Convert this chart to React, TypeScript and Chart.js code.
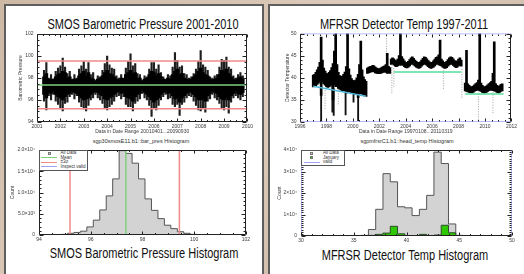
import React, { useEffect, useRef } from 'react';
import { Chart, registerables } from 'chart.js';

Chart.register(...registerables);

const FONT = "'Liberation Sans', Arial, Helvetica, sans-serif";
const INK = '#222';
const LABEL = '#3a3a3a';
const RED = '#f08a8a';
const GREEN = '#7fd07f';
const BLUE = '#a3a3f5';
const CYAN = '#4fb6d6';
const MINT = '#55dc9c';
const HIST_GRAY = '#d3d3d3';
const HIST_GREEN = '#2ec800';

// ---------------- SMOS barometric pressure (0.1-year bins from 2001.3) ----------------
const smosStart = 2001.3;
const smosStep = 0.1;
const smosHigh = [
  98.7, 99.4, 98.0, 98.3, 97.9, 98.6, 98.9,
  99.1, 99.8, 99.0, 98.4, 98.6, 97.9, 98.3, 98.0, 98.8, 99.1,
  99.5, 98.8, 99.4, 98.3, 98.5, 97.8, 98.2, 98.1, 98.7, 99.3,
  100.0, 99.2, 98.9, 98.8, 98.2, 98.0, 98.3, 98.0, 98.9, 99.5,
  100.2, 99.1, 99.3, 98.4, 98.3, 97.8, 98.2, 98.1, 98.8, 99.4,
  99.4, 98.8, 99.2, 98.5, 98.1, 97.9, 98.3, 98.2, 99.0, 100.3,
  99.6, 99.0, 99.1, 98.4, 98.3, 98.0, 98.1, 98.4, 98.8, 99.5,
  100.5, 99.2, 99.0, 98.7, 98.1, 98.0, 98.2, 98.3, 99.0, 99.7,
  99.6, 99.9, 99.0, 98.8, 98.2, 98.0, 98.3, 98.5, 98.2,
];
const smosLow = [
  95.9, 95.1, 96.4, 96.0, 96.5, 95.9, 95.6,
  95.3, 95.0, 95.7, 95.8, 96.3, 96.5, 96.1, 96.4, 95.8, 95.4,
  95.2, 95.0, 95.5, 96.0, 96.2, 96.5, 96.2, 96.0, 95.7, 95.3,
  95.1, 95.4, 95.6, 95.9, 96.3, 96.4, 96.1, 96.3, 95.6, 95.4,
  95.4, 95.0, 95.7, 95.9, 96.1, 96.6, 96.2, 96.0, 95.5, 94.5,
  95.3, 95.1, 95.5, 96.0, 96.3, 96.5, 96.1, 96.2, 95.6, 95.4,
  95.6, 94.6, 95.6, 95.8, 96.2, 96.4, 96.3, 95.9, 95.5, 95.1,
  95.0, 95.3, 94.9, 95.9, 96.1, 96.5, 96.2, 96.0, 95.7, 95.3,
  95.1, 95.4, 94.8, 95.8, 96.2, 96.4, 96.2, 96.0, 96.3,
];
const smosCoreHigh = [
  98.1, 98.4, 97.9, 97.8, 97.9, 98.1, 98.3,
  98.4, 98.6, 98.5, 98.0, 98.1, 97.8, 97.9, 97.9, 98.2, 98.4,
  98.6, 98.2, 98.5, 98.0, 97.9, 97.7, 97.9, 98.0, 98.2, 98.5,
  98.7, 98.4, 98.3, 98.1, 97.9, 97.8, 98.0, 97.9, 98.3, 98.5,
  98.7, 98.4, 98.5, 98.0, 98.0, 97.7, 97.9, 98.0, 98.3, 98.6,
  98.5, 98.2, 98.4, 98.1, 97.9, 97.8, 98.0, 97.9, 98.3, 98.6,
  98.8, 98.3, 98.4, 98.0, 97.9, 97.8, 97.9, 98.1, 98.3, 98.6,
  98.9, 98.5, 98.3, 98.2, 97.9, 97.8, 97.9, 98.0, 98.3, 98.7,
  98.6, 98.8, 98.4, 98.1, 97.9, 97.8, 98.0, 98.1, 97.9,
];
const smosCoreLow = [
  96.5, 96.2, 96.7, 96.6, 96.8, 96.5, 96.3,
  96.2, 96.0, 96.3, 96.5, 96.6, 96.8, 96.7, 96.6, 96.4, 96.2,
  96.0, 96.1, 96.2, 96.5, 96.7, 96.8, 96.7, 96.5, 96.4, 96.1,
  96.0, 96.2, 96.3, 96.5, 96.7, 96.8, 96.6, 96.7, 96.3, 96.2,
  96.1, 95.9, 96.3, 96.5, 96.6, 96.9, 96.7, 96.5, 96.3, 96.0,
  95.8, 96.0, 96.2, 96.5, 96.7, 96.8, 96.6, 96.7, 96.4, 96.1,
  96.2, 95.8, 96.2, 96.4, 96.6, 96.8, 96.7, 96.5, 96.3, 96.0,
  96.0, 96.1, 95.9, 96.4, 96.6, 96.8, 96.7, 96.6, 96.3, 96.1,
  96.0, 96.2, 96.0, 96.4, 96.6, 96.8, 96.6, 96.5, 96.7,
];
const smosRefValues = [99.55, 97.36, 95.2]; // upper limit, mean, lower limit
const smosYears = [2001, 2002, 2003, 2004, 2005, 2006, 2007, 2008, 2009, 2010];
const smosYTicks = [94, 96, 98, 100, 102];

// ---------------- SMOS histogram ----------------
const smosBinEdges = [
  94.6, 94.85, 95.1, 95.35, 95.6, 95.85, 96.1, 96.35, 96.6, 96.85, 97.1, 97.35,
  97.6, 97.85, 98.1, 98.35, 98.6, 98.85, 99.1, 99.35, 99.6, 99.85, 100.1, 100.35,
];
const smosCounts = [
  80, 150, 400, 600, 900, 1900, 3500, 5900, 9200, 13200, 19850, 19200,
  16900, 13200, 8500, 5800, 3850, 2300, 1500, 770, 400, 150, 60,
];
const smosHistLines = [95.2, 97.36, 99.43]; // -limit, mean, +limit
const smosHistXTicks = [94, 96, 98, 100, 102];
const smosHistYTicks = [0, 5000, 10000, 15000, 20000];
const smosHistYLabels = ['0', '5.0×10³', '1.0×10⁴', '1.5×10⁴', '2.0×10⁴'];
const smosLegendLabels = ['All Data', 'Mean', '±3σ', 'Inspect valid'];

// ---------------- MFRSR detector temperature (0.1-year bins) ----------------
const mfrSeg1Start = 1997.0;
const mfrSeg1Low = [
  37.9, 38.0, 38.2, 38.5, 38.8, 39.2, 36.0, 39.0, 38.6, 38.3,
  38.0, 37.8, 37.9, 38.1, 38.3, 35.0, 38.5, 38.0, 38.0, 37.6,
  37.4, 37.2, 37.1, 37.0, 37.1, 36.5, 36.8, 36.9, 36.7, 36.5,
  36.4, 36.3, 36.2, 36.2, 35.5, 36.3, 36.4, 36.3, 36.0, 35.9,
  35.8,
];
const mfrSeg1High = [
  40.6, 40.8, 41.2, 41.8, 42.4, 43.5, 49.2, 44.0, 42.2, 41.5,
  41.0, 40.8, 41.2, 41.6, 42.3, 43.2, 46.0, 50.5, 43.0, 41.2,
  40.5, 40.2, 40.4, 40.8, 41.3, 42.5, 50.5, 42.0, 40.6, 39.8,
  39.4, 39.2, 39.5, 40.0, 40.8, 43.0, 48.3, 41.8, 40.2, 39.6,
  39.2,
];
const mfrSeg2Start = 2001.1;
const mfrSeg2Low = [41.0, 41.1, 41.2, 41.3, 41.4, 41.3, 41.1, 41.0, 40.9, 40.9, 41.0, 41.1, 41.2, 41.3, 41.2, 41.0, 41.1, 41.0];
const mfrSeg2High = [42.2, 42.4, 42.5, 42.6, 42.8, 42.7, 42.4, 42.2, 42.1, 42.0, 42.2, 42.4, 42.5, 42.7, 43.0, 45.5, 42.6, 42.3];
const mfrSeg3Start = 2002.9;
const mfrSeg3Low = [
  43.0,
  43.2, 42.9, 42.6, 42.5, 42.7, 43.0, 42.8, 43.0, 42.8, 42.5,
  42.3, 42.2, 42.4, 42.7, 43.0, 43.1, 42.9, 42.6, 42.4, 42.2,
  42.1, 42.3, 42.6, 42.9, 43.1, 43.0, 42.8, 42.5, 42.3, 42.1,
  42.2, 42.4, 42.7, 43.0, 43.1, 42.9, 42.8, 42.7, 42.4, 42.2,
  42.1, 42.3, 42.6, 42.9, 43.1, 43.0, 42.8, 42.5, 42.3, 42.4,
  42.7, 42.9, 42.6,
];
const mfrSeg3High = [
  44.2,
  44.5, 44.3, 44.0, 43.8, 44.2, 45.0, 50.2, 44.8, 44.3, 43.8,
  43.5, 43.4, 43.7, 44.1, 44.5, 44.7, 44.4, 44.0, 43.7, 43.5,
  43.4, 43.6, 44.0, 44.4, 44.7, 44.6, 44.3, 43.9, 43.6, 43.4,
  43.5, 43.8, 44.2, 44.6, 44.7, 45.2, 48.5, 44.2, 43.8, 43.5,
  43.4, 43.7, 44.1, 44.5, 44.7, 44.6, 44.3, 43.9, 43.6, 43.8,
  44.2, 44.5, 44.0,
];
const mfrSeg4Start = 2008.5;
const mfrSeg4Low = [
  37.0, 36.9, 36.8, 36.7, 36.6,
  36.6, 36.7, 36.9, 37.1, 37.2, 37.2, 37.0, 36.9, 36.7, 36.6,
  36.5, 36.7, 36.9, 37.1, 37.2, 37.2, 37.1, 37.0, 36.9, 36.7,
  36.6, 36.7, 36.9, 37.0,
];
const mfrSeg4High = [
  38.8, 46.2, 38.6, 38.3, 38.0,
  37.9, 38.1, 38.4, 38.7, 38.9, 39.5, 50.2, 38.8, 38.3, 38.0,
  37.9, 38.1, 38.4, 38.7, 38.9, 39.2, 41.0, 48.1, 38.7, 38.3,
  38.0, 38.2, 38.5, 38.6,
];
const mfrDropYears = [1997.6, 1998.45, 1998.55, 1999.45, 2000.05, 2000.4];
const mfrDropLow = [30.0, 32.2, 31.5, 31.6, 34.5, 30.3];
const mfrDropHigh = [38.5, 38.0, 37.5, 37.0, 36.5, 36.2];
const mfrDotYears = [1997.9, 1998.9, 2002.55, 2002.95, 2003.1, 2006.85, 2008.25, 2009.5, 2010.6];
const mfrDotLow = [33.0, 34.0, 42.5, 36.5, 38.0, 37.5, 35.5, 30.5, 32.0];
const mfrDotHigh = [38.0, 37.5, 49.5, 42.8, 42.5, 42.5, 42.3, 36.8, 36.8];
const mfrFit1 = [[1997.0, 38.1], [2001.0, 35.8]];
const mfrFit3 = [[2003.1, 41.3], [2008.2, 41.3]];
const mfrFit4 = [[2008.5, 36.3], [2011.4, 36.3]];
const mfrValidRange = [30, 50];
const mfrYears = [1996, 1998, 2000, 2002, 2004, 2006, 2008, 2010, 2012];
const mfrYTicks = [30, 35, 40, 45, 50];

// ---------------- MFRSR histogram ----------------
const mfrBinEdges = [35.7, 36.39, 37.08, 37.77, 38.46, 39.15, 39.84, 40.53, 41.22, 41.91, 42.6, 43.29, 43.98, 44.67, 45.36, 46.05, 46.74, 47.43];
const mfrAllCounts = [300, 3000, 12400, 29000, 25200, 13600, 13100, 9500, 12400, 18900, 39000, 33700, 5600, 300, 150, 100, 80];
const mfrJanCounts = [0, 300, 750, 1350, 4500, 1000, 0, 0, 750, 0, 450, 5000, 1500, 0, 0, 0, 0];
const mfrHistXTicks = [30, 35, 40, 45, 50];
const mfrHistYTicks = [0, 10000, 20000, 30000, 40000];
const mfrHistYLabels = ['0', '1×10⁴', '2×10⁴', '3×10⁴', '4×10⁴'];
const mfrLegendLabels = ['All Data', 'January', 'valid'];

// ---------------- helpers ----------------
type Pt = { x: number; y: any };

function floatSeries(start: number, step: number, lo: number[], hi: number[]): Pt[] {
  return lo.map((l, i) => ({ x: Math.round((start + i * step) * 100) / 100, y: [l, hi[i]] }));
}
function hLine(x0: number, x1: number, y: number): Pt[] {
  return [{ x: x0, y }, { x: x1, y }];
}
function vLine(x: number, y0: number, y1: number): Pt[] {
  return [{ x, y: y0 }, { x, y: y1 }];
}
function polyLine(p: number[][]): Pt[] {
  return p.map(([x, y]) => ({ x, y }));
}
function stepHist(edges: number[], counts: number[]): Pt[] {
  const pts: Pt[] = [{ x: edges[0], y: 0 }];
  counts.forEach((c, i) => pts.push({ x: edges[i], y: c }));
  pts.push({ x: edges[edges.length - 1], y: 0 });
  return pts;
}
function vSegments(xs: number[], lo: number[], hi: number[]): Pt[] {
  const pts: Pt[] = [];
  xs.forEach((x, i) => {
    pts.push({ x, y: lo[i] }, { x, y: hi[i] }, { x, y: null });
  });
  return pts;
}

const idlFrame = {
  id: 'idlFrame',
  afterDatasetsDraw(chart: any, _args: any, o: any) {
    const { ctx, chartArea: a } = chart;
    const xs = chart.scales.x;
    const ys = chart.scales.y;
    const L = Math.round(a.left) + 0.5;
    const R = Math.round(a.right) - 0.5;
    const T = Math.round(a.top) + 0.5;
    const B = Math.round(a.bottom) - 0.5;
    ctx.save();
    ctx.lineWidth = 1;
    const seg = (c: any, x1: number, y1: number, x2: number, y2: number) => {
      if (!c || c === 'none') return;
      ctx.strokeStyle = c;
      ctx.beginPath();
      ctx.moveTo(x1, y1);
      ctx.lineTo(x2, y2);
      ctx.stroke();
    };
    seg(o.top, L, T, R, T);
    seg(o.bottom, L, B, R, B);
    seg(o.left, L, T, L, B);
    seg(o.right, R, T, R, B);
    const xv = xs.ticks.map((t: any) => t.value);
    const yv = ys.ticks.map((t: any) => t.value);
    const xt = (v: number, len: number) => {
      const p = Math.round(xs.getPixelForValue(v)) + 0.5;
      seg(INK, p, B, p, B - len);
      seg(INK, p, T, p, T + len);
    };
    const yt = (v: number, len: number) => {
      const p = Math.round(ys.getPixelForValue(v)) + 0.5;
      seg(INK, L, p, L + len, p);
      seg(INK, R, p, R - len, p);
    };
    xv.forEach((v: number) => xt(v, o.xLen));
    yv.forEach((v: number) => yt(v, o.yLen));
    for (let i = 0; i < xv.length - 1; i++)
      for (let k = 1; k < o.xMinor; k++) xt(xv[i] + ((xv[i + 1] - xv[i]) * k) / o.xMinor, o.xLen / 2);
    for (let i = 0; i < yv.length - 1; i++)
      for (let k = 1; k < o.yMinor; k++) yt(yv[i] + ((yv[i + 1] - yv[i]) * k) / o.yMinor, o.yLen / 2);
    ctx.restore();
  },
};

type AxisOpt = {
  min: number;
  max: number;
  ticks: number[];
  labels?: string[];
  size: number;
  title?: string;
  titlePad?: number;
  tickPad?: number;
};

function labelFor(o: AxisOpt, v: number) {
  const i = o.ticks.indexOf(v);
  return o.labels && i >= 0 ? o.labels[i] : String(v);
}

function xScale(o: AxisOpt) {
  return {
    type: 'linear',
    position: 'bottom',
    min: o.min,
    max: o.max,
    offset: false,
    afterBuildTicks: (s: any) => {
      s.ticks = o.ticks.map((v) => ({ value: v }));
    },
    afterFit: (s: any) => {
      s.height = o.size;
    },
    grid: { display: false, drawTicks: false },
    border: { display: false },
    ticks: {
      autoSkip: false,
      maxRotation: 0,
      minRotation: 0,
      padding: o.tickPad ?? 2,
      color: LABEL,
      font: { size: 5, family: FONT },
      callback: (v: any) => labelFor(o, v),
    },
    title: o.title
      ? { display: true, text: o.title, color: LABEL, font: { size: 5, family: FONT }, padding: { top: 0, bottom: o.titlePad ?? 0 } }
      : { display: false },
  };
}

function yScale(o: AxisOpt) {
  return {
    type: 'linear',
    position: 'left',
    min: o.min,
    max: o.max,
    afterBuildTicks: (s: any) => {
      s.ticks = o.ticks.map((v) => ({ value: v }));
    },
    afterFit: (s: any) => {
      s.width = o.size;
    },
    grid: { display: false, drawTicks: false },
    border: { display: false },
    ticks: {
      autoSkip: false,
      padding: o.tickPad ?? 3,
      color: LABEL,
      font: { size: 5, family: FONT },
      callback: (v: any) => labelFor(o, v),
    },
    title: o.title
      ? { display: true, text: o.title, color: LABEL, font: { size: 5, family: FONT }, padding: { top: o.titlePad ?? 0, bottom: 0 } }
      : { display: false },
  };
}

function baseOptions(padTop: number, padRight: number, x: any, y: any, frame: any) {
  return {
    responsive: false,
    maintainAspectRatio: false,
    animation: false,
    devicePixelRatio: 1,
    events: [],
    layout: { padding: { top: padTop, right: padRight, left: 0, bottom: 0 } },
    plugins: {
      legend: { display: false },
      tooltip: { enabled: false },
      title: { display: false },
      idlFrame: frame,
    },
    scales: { x, y },
  };
}

const lineDs = (data: Pt[], color: string, width = 1.5, order = 0) => ({
  type: 'line',
  data,
  borderColor: color,
  borderWidth: width,
  pointRadius: 0,
  tension: 0,
  fill: false,
  order,
});

// ---------------- chart builders ----------------
function buildSmosSeries() {
  const x0 = smosYears[0];
  const x1 = smosYears[smosYears.length - 1];
  return {
    type: 'bar',
    data: {
      datasets: [
        lineDs(hLine(x0, x1, smosRefValues[0]), RED),
        lineDs(hLine(x0, x1, smosRefValues[1]), GREEN),
        lineDs(hLine(x0, x1, smosRefValues[2]), RED),
        { type: 'bar', data: floatSeries(smosStart, smosStep, smosCoreLow, smosCoreHigh), backgroundColor: '#000', barThickness: 3, grouped: false, order: 1 },
        { type: 'bar', data: floatSeries(smosStart, smosStep, smosLow, smosHigh), backgroundColor: '#1e1e1e', barThickness: 1.5, grouped: false, order: 2 },
      ],
    },
    options: baseOptions(
      7,
      7,
      xScale({ min: x0, max: x1, ticks: smosYears, size: 16, tickPad: 2, title: 'Data in Date Range 20010401...20090930', titlePad: 3 }),
      yScale({ min: 94, max: 102, ticks: smosYTicks, size: 29, tickPad: 3.5, title: 'Barometric Pressure', titlePad: 10 }),
      { top: INK, bottom: INK, left: INK, right: INK, xLen: 3, yLen: 4, xMinor: 4, yMinor: 4 }
    ),
    plugins: [idlFrame],
  };
}

function buildSmosHist() {
  const top = smosHistYTicks[smosHistYTicks.length - 1];
  return {
    type: 'line',
    data: {
      datasets: [
        lineDs(vLine(smosHistLines[0], 0, top), RED),
        lineDs(vLine(smosHistLines[1], 0, top), GREEN),
        lineDs(vLine(smosHistLines[2], 0, top), RED),
        {
          type: 'line',
          data: stepHist(smosBinEdges, smosCounts),
          stepped: true,
          fill: 'origin',
          backgroundColor: HIST_GRAY,
          borderColor: '#555',
          borderWidth: 1,
          pointRadius: 0,
          order: 1,
        },
      ],
    },
    options: baseOptions(
      4,
      5,
      xScale({ min: 94, max: 102, ticks: smosHistXTicks, size: 10, tickPad: 2 }),
      yScale({ min: 0, max: top, ticks: smosHistYTicks, labels: smosHistYLabels, size: 33, tickPad: 4, title: 'Count', titlePad: 4 }),
      { top: INK, bottom: INK, left: INK, right: INK, xLen: 3, yLen: 4, xMinor: 4, yMinor: 5 }
    ),
    plugins: [idlFrame],
  };
}

function buildMfrSeries() {
  const x0 = mfrYears[0];
  const x1 = mfrYears[mfrYears.length - 1];
  const band = [
    ...floatSeries(mfrSeg1Start, 0.1, mfrSeg1Low, mfrSeg1High),
    ...floatSeries(mfrSeg2Start, 0.1, mfrSeg2Low, mfrSeg2High),
    ...floatSeries(mfrSeg3Start, 0.1, mfrSeg3Low, mfrSeg3High),
    ...floatSeries(mfrSeg4Start, 0.1, mfrSeg4Low, mfrSeg4High),
  ];
  const drops = mfrDropYears.map((x, i) => ({ x, y: [mfrDropLow[i], mfrDropHigh[i]] }));
  return {
    type: 'bar',
    data: {
      datasets: [
        lineDs(hLine(x0, x1, mfrValidRange[0]), BLUE),
        lineDs(hLine(x0, x1, mfrValidRange[1]), BLUE),
        lineDs(polyLine(mfrFit1), CYAN),
        lineDs(polyLine(mfrFit3), MINT),
        lineDs(polyLine(mfrFit4), MINT),
        { type: 'bar', data: band, backgroundColor: '#000', barThickness: 2, grouped: false, order: 1 },
        { type: 'bar', data: drops, backgroundColor: '#111', barThickness: 1.2, grouped: false, order: 2 },
        {
          type: 'line',
          data: vSegments(mfrDotYears, mfrDotLow, mfrDotHigh),
          borderColor: '#8a8a8a',
          borderWidth: 0.8,
          borderDash: [1, 1.5],
          pointRadius: 0,
          spanGaps: false,
          order: 3,
        },
      ],
    },
    options: baseOptions(
      6.5,
      7,
      xScale({ min: x0, max: x1, ticks: mfrYears, size: 16, tickPad: 2, title: 'Data in Date Range 19970108...20110319', titlePad: 3 }),
      yScale({ min: 30, max: 50, ticks: mfrYTicks, size: 30, tickPad: 3.5, title: 'Detector Temperature', titlePad: 15 }),
      { top: 'none', bottom: 'none', left: INK, right: INK, xLen: 3, yLen: 4, xMinor: 4, yMinor: 5 }
    ),
    plugins: [idlFrame],
  };
}

function buildMfrHist() {
  const top = mfrHistYTicks[mfrHistYTicks.length - 1];
  return {
    type: 'line',
    data: {
      datasets: [
        lineDs(vLine(mfrValidRange[0], 0, top), BLUE),
        lineDs(vLine(mfrValidRange[1], 0, top), BLUE),
        {
          type: 'line',
          data: stepHist(mfrBinEdges, mfrJanCounts),
          stepped: true,
          fill: 'origin',
          backgroundColor: HIST_GREEN,
          borderColor: '#2d4d2d',
          borderWidth: 1,
          pointRadius: 0,
          order: 1,
        },
        {
          type: 'line',
          data: stepHist(mfrBinEdges, mfrAllCounts),
          stepped: true,
          fill: 'origin',
          backgroundColor: HIST_GRAY,
          borderColor: '#555',
          borderWidth: 1,
          pointRadius: 0,
          order: 2,
        },
      ],
    },
    options: baseOptions(
      4,
      5,
      xScale({ min: 30, max: 50, ticks: mfrHistXTicks, size: 10, tickPad: 2 }),
      yScale({ min: 0, max: top, ticks: mfrHistYTicks, labels: mfrHistYLabels, size: 33, tickPad: 4, title: 'Count', titlePad: 9 }),
      { top: INK, bottom: INK, left: 'none', right: 'none', xLen: 3, yLen: 4, xMinor: 5, yMinor: 10 }
    ),
    plugins: [idlFrame],
  };
}

// ---------------- components ----------------
function ChartCanvas(props: { left: number; top: number; width: number; height: number; build: () => any }) {
  const ref = useRef<HTMLCanvasElement>(null);
  useEffect(() => {
    const chart = new Chart(ref.current as HTMLCanvasElement, props.build() as any);
    return () => chart.destroy();
  }, []);
  return (
    <canvas
      ref={ref}
      width={props.width}
      height={props.height}
      style={{ position: 'absolute', left: props.left, top: props.top, width: props.width, height: props.height }}
    />
  );
}

function Title(props: { cx: number; top: number; text: string; size?: number; sx?: number; color?: string }) {
  const size = props.size ?? 14;
  return (
    <div
      style={{
        position: 'absolute',
        left: props.cx,
        top: props.top,
        fontFamily: FONT,
        fontSize: size,
        lineHeight: `${size + 2}px`,
        whiteSpace: 'nowrap',
        color: props.color ?? '#111',
        transform: `translateX(-50%) scaleX(${props.sx ?? 0.785})`,
        transformOrigin: 'center',
      }}
    >
      {props.text}
    </div>
  );
}

type LegendRow = { label: string; kind: 'line' | 'square'; color: string };

function Legend(props: { left: number; top: number; width: number; rows: LegendRow[] }) {
  return (
    <div
      style={{
        position: 'absolute',
        left: props.left,
        top: props.top,
        width: props.width,
        boxSizing: 'border-box',
        border: '1px solid #555',
        background: '#fff',
        padding: '0.5px 0',
        fontFamily: FONT,
        fontSize: 4.5,
        lineHeight: '4.5px',
        color: '#333',
      }}
    >
      {props.rows.map((r) => (
        <div key={r.label} style={{ display: 'flex', alignItems: 'center', height: 4.5 }}>
          <div style={{ width: 19, display: 'flex', justifyContent: 'center', alignItems: 'center' }}>
            {r.kind === 'line' ? (
              <div style={{ width: 16, height: 1, background: r.color }} />
            ) : (
              <div style={{ width: 3, height: 3, boxSizing: 'border-box', background: r.color, border: '0.5px solid #777' }} />
            )}
          </div>
          <div style={{ whiteSpace: 'nowrap', marginLeft: 2 }}>{r.label}</div>
        </div>
      ))}
    </div>
  );
}

export default function App() {
  const panel = (left: number, width: number): React.CSSProperties => ({
    position: 'absolute',
    left,
    top: 4,
    width,
    height: 290,
    background: '#fff',
    border: '2px solid #5e5e5e',
  });
  const smosLegend: LegendRow[] = [
    { label: smosLegendLabels[0], kind: 'square', color: HIST_GRAY },
    { label: smosLegendLabels[1], kind: 'line', color: GREEN },
    { label: smosLegendLabels[2], kind: 'line', color: RED },
    { label: smosLegendLabels[3], kind: 'line', color: BLUE },
  ];
  const mfrLegend: LegendRow[] = [
    { label: mfrLegendLabels[0], kind: 'square', color: HIST_GRAY },
    { label: mfrLegendLabels[1], kind: 'square', color: HIST_GREEN },
    { label: mfrLegendLabels[2], kind: 'line', color: BLUE },
  ];
  return (
    <div
      style={{
        position: 'fixed',
        left: 0,
        top: 0,
        width: 524,
        height: 274,
        overflow: 'hidden',
        background: 'linear-gradient(135deg, #cdb8a4 0%, #dccbbb 45%, #d3c0ae 70%, #ddccbd 100%)',
      }}
    >
      <div style={panel(4, 256)} />
      <div style={panel(268, 270)} />

      <Title cx={142.5} top={15.5} text="SMOS Barometric Pressure 2001-2010" />
      <Title cx={144} top={244.5} text="SMOS Barometric Pressure Histogram" />
      <Title cx={404} top={15.5} text="MFRSR Detector Temp 1997-2011" />
      <Title cx={405} top={247} text="MFRSR Detector Temp Histogram" />

      <Title cx={141} top={138} text="sgp30smosE11.b1::bar_pres Histogram" size={5.5} sx={1} color="#333" />
      <Title cx={407} top={138} text="sgpmfrsrC1.b1::head_temp Histogram" size={5.5} sx={1} color="#333" />

      <ChartCanvas left={8} top={27} width={247} height={111} build={buildSmosSeries} />
      <ChartCanvas left={6} top={143} width={246} height={102} build={buildSmosHist} />
      <ChartCanvas left={270} top={27} width={249} height={111} build={buildMfrSeries} />
      <ChartCanvas left={268} top={143} width={249} height={103} build={buildMfrHist} />

      <Legend left={38.5} top={149.5} width={49} rows={smosLegend} />
      <Legend left={301} top={149.5} width={44} rows={mfrLegend} />
    </div>
  );
}
